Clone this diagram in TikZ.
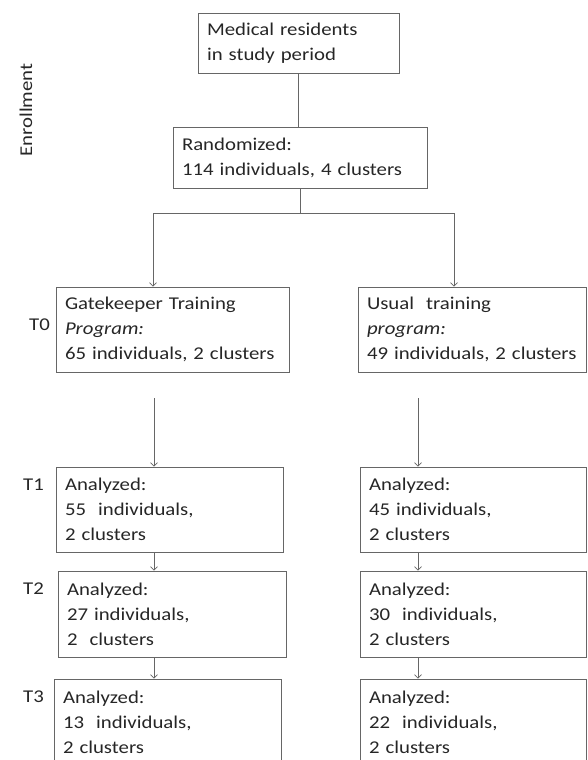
\documentclass[tikz,border=0pt]{standalone}
\usepackage{fontspec}
\setmainfont{Carlito}[FakeStretch=1.155]
\usetikzlibrary{arrows.meta}

\begin{document}
\begin{tikzpicture}[x=1pt,y=-1pt,
  font=\fontsize{18}{25}\selectfont,
  box/.style={draw=black!60, line width=0.7pt, inner xsep=9pt, inner ysep=0pt, align=left, text=black!85},
  lbl/.style={inner sep=0pt, text=black!85},
  line/.style={draw=black!60, line width=0.7pt},
  arr/.style={line, -{Straight Barb[length=3.5pt,width=7pt]}}]
\useasboundingbox (0,0) rectangle (587,760);
\clip (0,0) rectangle (587,760);
% enrollment
\node[box, text width=183pt, minimum height=60pt] (med) at (298.5,43) {Medical residents\\in study period};
\node[box, text width=236pt, minimum height=61pt] (rand) at (300,157.5) {Randomized:\\114 individuals, 4 clusters};
\node[lbl, rotate=90] (enr) at (26,110) {Enrollment};
% arms
\node[box, text width=215pt, minimum height=85pt] (gk) at (172.5,329.5) {Gatekeeper Training\\\textit{Program:}\\65 individuals, 2 clusters};
\node[box, text width=210pt, minimum height=85pt] (usual) at (472,329.5) {Usual~ training\\\textit{program:}\\49 individuals, 2 clusters};
% follow-up
\node[box, text width=209pt, minimum height=85pt] (t1l) at (169.5,509.5) {Analyzed:\\55~ individuals,\\2 clusters};
\node[box, text width=210pt, minimum height=86pt] (t2l) at (172,614) {Analyzed:\\27 individuals,\\2~ clusters};
\node[box, text width=209pt, minimum height=86pt] (t3l) at (167.5,722) {Analyzed:\\13~ individuals,\\2 clusters};
\node[box, text width=208pt, minimum height=85pt] (t1r) at (473,509.5) {Analyzed:\\45 individuals,\\2 clusters};
\node[box, text width=208pt, minimum height=86pt] (t2r) at (473,614) {Analyzed:\\30~ individuals,\\2 clusters};
\node[box, text width=208pt, minimum height=86pt] (t3r) at (473,722) {Analyzed:\\22~ individuals,\\2 clusters};
% time points
\node[lbl, anchor=base east] (t0) at (50,330) {T0};
\node[lbl, anchor=base east] (t1) at (44,490) {T1};
\node[lbl, anchor=base east] (t2) at (44,594) {T2};
\node[lbl, anchor=base east] (t3) at (44,702) {T3};
% connectors
\coordinate (bl) at (153,213);
\coordinate (br) at (454,213);
\coordinate (fl) at (154,398);
\coordinate (fr) at (418,398);
\draw[line] (med.south) -- (med.south |- rand.north);
\draw[line] (rand.south) -- (rand.south |- bl);
\draw[line] (bl) -- (br);
\draw[arr] (bl) -- (bl |- gk.north);
\draw[arr] (br) -- (br |- usual.north);
\draw[arr] (fl) -- (fl |- t1l.north);
\draw[arr] (fr) -- (fr |- t1r.north);
\draw[arr] (t1l.south -| fl) -- (t2l.north -| fl);
\draw[arr] (t2l.south -| fl) -- (t3l.north -| fl);
\draw[arr] (t1r.south -| fr) -- (t2r.north -| fr);
\draw[arr] (t2r.south -| fr) -- (t3r.north -| fr);
\end{tikzpicture}
\end{document}
